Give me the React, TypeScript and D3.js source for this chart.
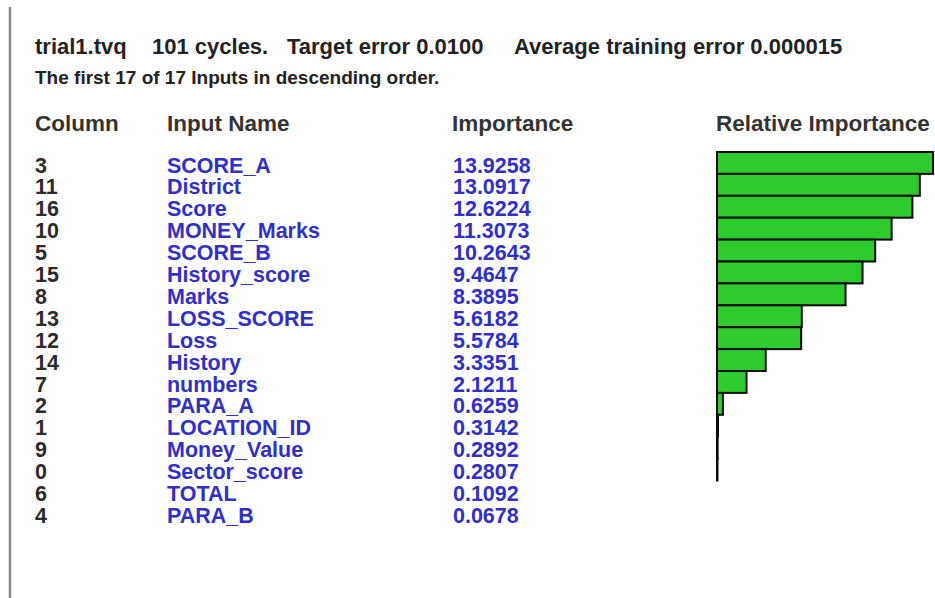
import React, { useEffect, useRef } from 'react';
import * as d3 from 'd3';

// table rows, in descending order of importance
const columns: string[] = ['3', '11', '16', '10', '5', '15', '8', '13', '12', '14', '7', '2', '1', '9', '0', '6', '4'];
const inputNames: string[] = [
  'SCORE_A',
  'District',
  'Score',
  'MONEY_Marks',
  'SCORE_B',
  'History_score',
  'Marks',
  'LOSS_SCORE',
  'Loss',
  'History',
  'numbers',
  'PARA_A',
  'LOCATION_ID',
  'Money_Value',
  'Sector_score',
  'TOTAL',
  'PARA_B'
];
const importances: number[] = [
  13.9258, 13.0917, 12.6224, 11.3073, 10.2643, 9.4647, 8.3895, 5.6182, 5.5784, 3.3351, 2.1211, 0.6259,
  0.3142, 0.2892, 0.2807, 0.1092, 0.0678
];
const headers: string[] = ['Column', 'Input Name', 'Importance', 'Relative Importance'];
const titleParts: string[] = ['trial1.tvq', '101 cycles.', 'Target error 0.0100', 'Average training error 0.000015'];
const subtitle = 'The first 17 of 17 Inputs in descending order.';

const FONT = "'Liberation Sans', Arial, sans-serif";

const App = () => {
  const svgRef = useRef<SVGSVGElement>(null);

  useEffect(() => {
    const svg = d3.select(svgRef.current);
    svg.selectAll('*').remove();

    // left frame edge
    svg
      .append('line')
      .attr('x1', 10)
      .attr('x2', 10)
      .attr('y1', 7)
      .attr('y2', 598)
      .attr('stroke', '#8a8a8a')
      .attr('stroke-width', 2.5);

    // title lines
    const titleX = [35, 152, 287, 514];
    svg
      .append('g')
      .selectAll('text')
      .data(titleParts)
      .join('text')
      .attr('x', (d, i) => titleX[i])
      .attr('y', 54)
      .text((d) => d)
      .style('font-family', FONT)
      .style('font-weight', 'bold')
      .style('font-size', '22px')
      .attr('fill', '#222');
    svg
      .append('text')
      .attr('x', 35)
      .attr('y', 84)
      .text(subtitle)
      .style('font-family', FONT)
      .style('font-weight', 'bold')
      .style('font-size', '19px')
      .attr('fill', '#222');

    // column headers
    const headerX = [35, 167, 452, 716];
    svg
      .append('g')
      .selectAll('text')
      .data(headers)
      .join('text')
      .attr('x', (d, i) => headerX[i])
      .attr('y', 131)
      .text((d) => d)
      .style('font-family', FONT)
      .style('font-weight', 'bold')
      .style('font-size', '22.5px')
      .attr('fill', '#333');

    //setting up scales
    const idx = d3.range(inputNames.length);
    const y = d3
      .scaleBand<number>()
      .domain(idx)
      .range([152, 152 + idx.length * 21.9])
      .padding(0);
    // bars start a little above zero, so the smallest inputs get no bar
    const x = d3
      .scaleLinear()
      .domain([0.25, d3.max(importances) as number])
      .range([717, 933]);

    // table text
    const rows = svg
      .append('g')
      .selectAll('g')
      .data(idx)
      .join('g')
      .attr('transform', (i) => `translate(0,${(y(i) as number) + 20.5}) scale(1,1.04)`)
      .style('font-family', FONT)
      .style('font-weight', 'bold')
      .style('font-size', '21.5px');

    rows
      .append('text')
      .attr('x', 35)
      .attr('fill', '#2b2b2b')
      .text((i) => columns[i]);
    rows
      .append('text')
      .attr('x', 167)
      .attr('fill', '#3030c8')
      .text((i) => inputNames[i]);
    rows
      .append('text')
      .attr('x', 453)
      .attr('fill', '#3030c8')
      .text((i) => importances[i].toFixed(4));

    // relative importance bars
    svg
      .append('g')
      .selectAll('rect')
      .data(idx.filter((i) => importances[i] > x.domain()[0]))
      .join('rect')
      .attr('x', x.range()[0])
      .attr('y', (i) => y(i) as number)
      .attr('width', (i) => x(importances[i]) - x.range()[0])
      .attr('height', y.bandwidth())
      .attr('fill', '#2ecb2e')
      .attr('stroke', '#0a0a0a')
      .attr('stroke-width', 2);
  }, []);

  return (
    <svg
      ref={svgRef}
      width={935}
      height={598}
      style={{ position: 'absolute', left: 0, top: 0, background: '#fff' }}
    ></svg>
  );
};

export default App;
